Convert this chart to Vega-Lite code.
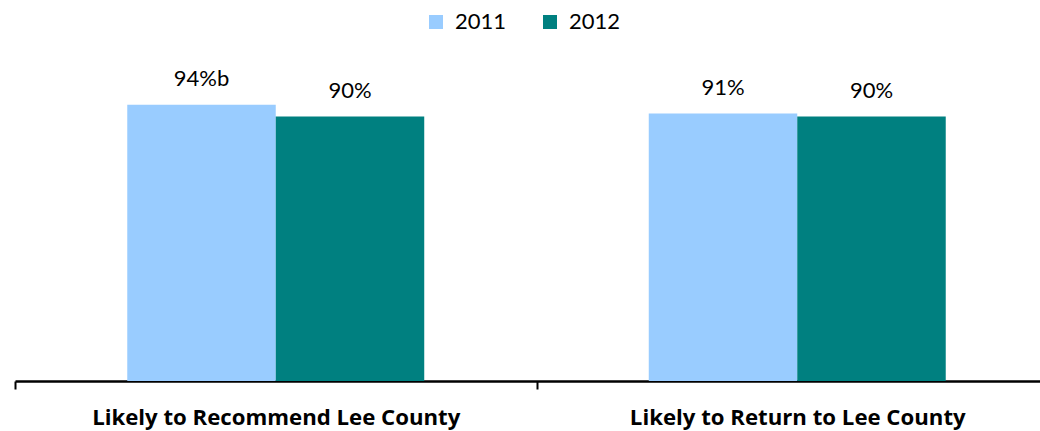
{
  "$schema": "https://vega.github.io/schema/vega-lite/v6.json",
  "width": 1025,
  "height": 294,
  "autosize": {"type": "none"},
  "padding": {"left": 15, "top": 87, "right": 0, "bottom": 50},
  "background": "white",
  "config": {"view": {"stroke": null}, "font": "Lato"},
  "data": {
    "values": [
      {"category": "Likely to Recommend Lee County", "year": "2011", "value": 94, "label": "94%b"},
      {"category": "Likely to Recommend Lee County", "year": "2012", "value": 90, "label": "90%"},
      {"category": "Likely to Return to Lee County", "year": "2011", "value": 91, "label": "91%"},
      {"category": "Likely to Return to Lee County", "year": "2012", "value": 90, "label": "90%"}
    ]
  },
  "encoding": {
    "x": {
      "field": "category", "type": "nominal", "sort": null,
      "scale": {"range": [0, 1043], "paddingInner": 0, "paddingOuter": 0},
      "axis": {
        "title": null, "labelAngle": 0, "tickBand": "extent", "labelLimit": 0,
        "domainColor": "black", "domainWidth": 2.5, "tickColor": "black", "tickWidth": 2, "tickSize": 8,
        "labelFont": "Open Sans", "labelFontWeight": "bold", "labelFontSize": 22.2, "labelColor": "black",
        "labelPadding": 35, "labelBaseline": "alphabetic"
      }
    },
    "xOffset": {"field": "year", "type": "nominal", "scale": {"paddingInner": 0, "paddingOuter": 0.756}},
    "y": {"field": "value", "type": "quantitative", "scale": {"domain": [0, 100]}, "axis": null}
  },
  "layer": [
    {
      "mark": {"type": "bar"},
      "encoding": {
        "color": {
          "field": "year", "type": "nominal",
          "scale": {"domain": ["2011", "2012"], "range": ["#99CCFF", "#008080"]},
          "legend": {
            "title": null, "orient": "none", "direction": "horizontal",
            "legendX": 410, "legendY": -76,
            "symbolType": "square", "symbolSize": 196, "symbolStrokeWidth": 0, "symbolOpacity": 1,
            "labelFontSize": 22, "labelFont": "Lato", "labelColor": "black", "labelOffset": 8,
            "columnPadding": 32
          }
        }
      }
    },
    {
      "mark": {"type": "text", "baseline": "alphabetic", "dy": -18.5, "fontSize": 22, "font": "Lato", "color": "black"},
      "encoding": {"text": {"field": "label"}}
    }
  ]
}
